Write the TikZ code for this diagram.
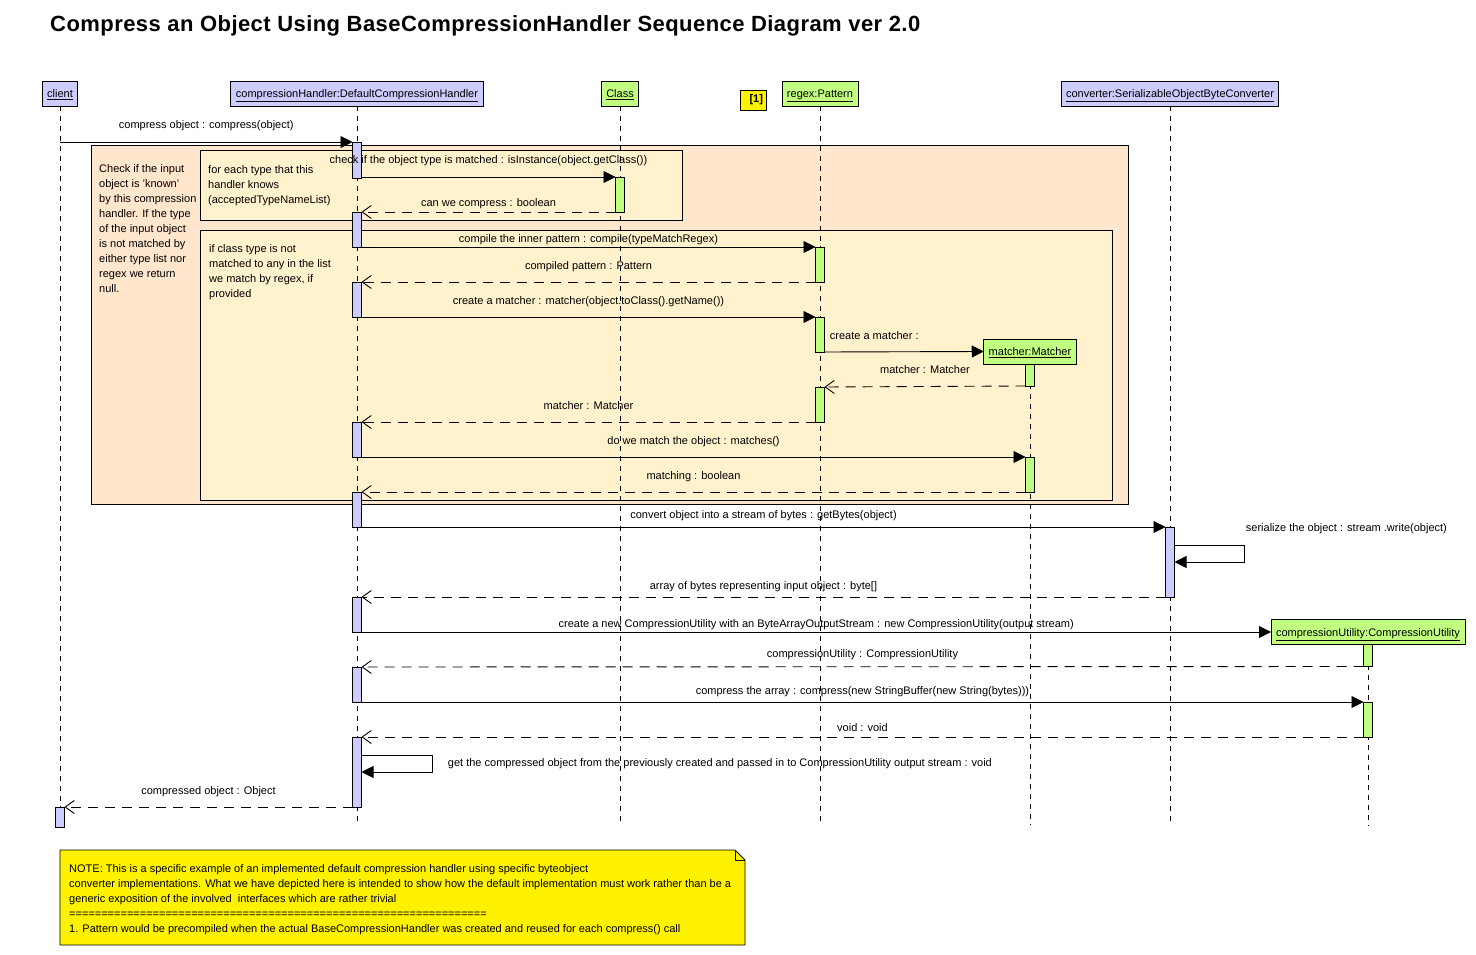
\documentclass[tikz,border=0pt]{standalone}
\usepackage{fontspec}
\setmainfont{Liberation Sans}
\newfontfamily\titlefont[LetterSpace=2]{Liberation Sans}
\usetikzlibrary{arrows.meta,positioning,calc}
\definecolor{lav}{RGB}{204,204,255}
\definecolor{lime}{RGB}{192,255,128}
\definecolor{peach}{RGB}{255,230,204}
\definecolor{cream}{RGB}{255,242,204}

\begin{document}
\begin{tikzpicture}[
  x=1pt, y=-1pt,
  font=\fontsize{11}{15}\selectfont,
  head/.style={draw, line width=0.9pt, minimum height=25pt, inner xsep=5pt, inner ysep=0pt, outer sep=0pt, text height=9.5pt, text depth=1pt},
  lavhead/.style={head, fill=lav},
  limehead/.style={head, fill=lime},
  bar/.style={draw, line width=0.9pt, minimum width=9pt, inner sep=0pt, outer sep=0pt, anchor=north},
  lavbar/.style={bar, fill=lav},
  limebar/.style={bar, fill=lime},
  life/.style={line width=0.9pt, dash pattern=on 5pt off 5pt},
  call/.style={line width=0.9pt, -{Triangle[length=12pt,width=12pt]}},
  ret/.style={line width=0.9pt, dash pattern=on 10pt off 7pt, -{Straight Barb[length=9pt,width=13pt,line width=0.9pt]}},
  lbl/.style={midway, anchor=base, inner sep=0pt, yshift=#1},
  lbl/.default=13pt,
  frag/.style={draw, line width=0.9pt},
  txt/.style={anchor=north west, align=left, inner sep=0pt}
]
\useasboundingbox (0,0) rectangle (1476,955);

\node[anchor=base west, inner sep=0pt, font=\titlefont\bfseries\fontsize{22}{26}\selectfont] (title) at (50,32)
  {Compress an Object Using BaseCompressionHandler Sequence Diagram ver 2.0};

% fragments
\draw[frag, fill=peach] (91,145) rectangle (1128,504);
\draw[frag, fill=cream] (200,150) rectangle (682,220);
\draw[frag, fill=cream] (200,230) rectangle (1112,500);
\node[txt] (why) at (99,164) {Check if the input\\object is 'known'\\by this compression\\handler. If the type\\of the input object\\is not matched by\\either type list nor\\regex we return\\null.};
\node[txt] (loop) at (208,165) {for each type that this\\handler knows\\(acceptedTypeNameList)};
\node[txt] (alt) at (209,244) {if class type is not\\matched to any in the list\\we match by regex, if\\provided};

% lifeline heads
\node[lavhead] (cl) at (60,93.5) {\underline{client}};
\node[lavhead] (ch) at (357,93.5) {\underline{compressionHandler:DefaultCompressionHandler}};
\node[limehead] (cls) at (620,93.5) {\underline{Class}};
\node[draw, fill=yellow, line width=0.9pt, minimum height=20pt, text width=20pt, align=right, inner xsep=3pt, inner ysep=0pt, font=\bfseries\fontsize{11}{13}\selectfont] (ref) at (753,100) {[1]};
\node[limehead] (rx) at (820,93.5) {\underline{regex:Pattern}};
\node[lavhead] (cv) at (1170,93.5) {\underline{converter:SerializableObjectByteConverter}};
\node[limehead] (mt) at (1030,351.5) {\underline{matcher:Matcher}};
\node[limehead] (cu) at (1368,632) {\underline{compressionUtility:CompressionUtility}};

\coordinate (bot) at (0,825);
\foreach \n in {cl,ch,cls,rx,cv,mt,cu}
  \draw[life] (\n.south) -- (\n.south |- bot);

% activations
\node[lavbar, minimum height=36pt] (h1) at (357,142) {};
\node[lavbar, minimum height=35pt] (h2) at (357,212) {};
\node[lavbar, minimum height=35pt] (h3) at (357,282) {};
\node[lavbar, minimum height=35pt] (h4) at (357,422) {};
\node[lavbar, minimum height=35pt] (h5) at (357,492) {};
\node[lavbar, minimum height=35pt] (h6) at (357,597) {};
\node[lavbar, minimum height=35pt] (h7) at (357,667) {};
\node[lavbar, minimum height=70pt] (h8) at (357,737) {};
\node[lavbar, minimum height=20pt] (c1) at (60,807) {};
\node[limebar, minimum height=35pt] (k1) at (620,177) {};
\node[limebar, minimum height=35pt] (r1) at (820,247) {};
\node[limebar, minimum height=35pt] (r2) at (820,317) {};
\node[limebar, minimum height=35pt] (r3) at (820,387) {};
\node[limebar, minimum height=22pt] (m1) at (mt.south) {};
\node[limebar, minimum height=35pt] (m2) at (1030,457) {};
\node[lavbar, minimum height=70pt] (v1) at (1170,527) {};
\node[limebar, minimum height=22pt] (u1) at (cu.south) {};
\node[limebar, minimum height=35pt] (u2) at (1368,702) {};

% messages
\draw[call] (cl |- h1.north) -- (h1.north west) node[lbl] {compress object : compress(object)};
\draw[call] (k1.north west -| h1.east) -- (k1.north west) node[lbl] {check if the object type is matched : isInstance(object.getClass())};
\draw[ret] (k1.south west) -- (h2.north east) node[lbl=6pt] {can we compress : boolean};
\draw[call] (h2.south east) -- (r1.north west) node[lbl=5pt] {compile the inner pattern : compile(typeMatchRegex)};
\draw[ret] (r1.south west) -- (h3.north east) node[lbl] {compiled pattern : Pattern};
\draw[call] (h3.south east) -- (r2.north west) node[lbl] {create a matcher : matcher(object.toClass().getName())};
\draw[call] (r2.south east) -- (mt.west) node[pos=0, anchor=base west, inner sep=0pt, xshift=5pt, yshift=13pt] {create a matcher :};
\draw[ret] (m1.south west) -- (r3.north east) node[lbl] {matcher : Matcher};
\draw[ret] (r3.south west) -- (h4.north east) node[lbl] {matcher : Matcher};
\draw[call] (h4.south east) -- (m2.north west) node[lbl] {do we match the object : matches()};
\draw[ret] (m2.south west) -- (h5.north east) node[lbl] {matching : boolean};
\draw[call] (h5.south east) -- (v1.north west) node[lbl=9pt] {convert object into a stream of bytes : getBytes(object)};
\draw[call] ([yshift=-18pt]v1.north east) -- ++(70,0)
  node[anchor=base west, inner sep=0pt, xshift=1pt, yshift=14pt] {serialize the object : stream .write(object)}
  -- ++(0,17) -- ([yshift=-35pt]v1.north east);
\draw[ret] (v1.south west) -- (h6.north east) node[lbl=8pt] {array of bytes representing input object : byte[]};
\draw[call] (h6.south east) -- (cu.west) node[lbl=5pt] {create a new CompressionUtility with an ByteArrayOutputStream : new CompressionUtility(output stream)};
\draw[ret] (u1.south west) -- (h7.north east) node[lbl=9pt] {compressionUtility : CompressionUtility};
\draw[call] (h7.south east) -- (u2.north west) node[lbl=8pt] {compress the array : compress(new StringBuffer(new String(bytes)))};
\draw[ret] (u2.south west) -- (h8.north east) node[lbl=6pt] {void : void};
\draw[call] ([yshift=-18pt]h8.north east) -- ++(71,0)
  node[anchor=base west, inner sep=0pt, xshift=15pt, yshift=-11pt] {get the compressed object from the previously created and passed in to CompressionUtility output stream : void}
  -- ++(0,17) -- ([yshift=-35pt]h8.north east);
\draw[ret] (h8.south west) -- (c1.north east) node[lbl] {compressed object : Object};

% note
\draw[line width=0.9pt, fill=yellow] (60,850) -- (735,850) -- (745,860) -- (745,945) -- (60,945) -- cycle;
\draw[line width=0.6pt] (735,850) -- (735,860) -- (745,860);
\node[txt] (note) at (69,864) {NOTE: This is a specific example of an implemented default compression handler using specific byteobject\\converter implementations. What we have depicted here is intended to show how the default implementation must work rather than be a\\generic exposition of the involved\ \ interfaces which are rather trivial\\=================================================================\\1. Pattern would be precompiled when the actual BaseCompressionHandler was created and reused for each compress() call};
\end{tikzpicture}
\end{document}
